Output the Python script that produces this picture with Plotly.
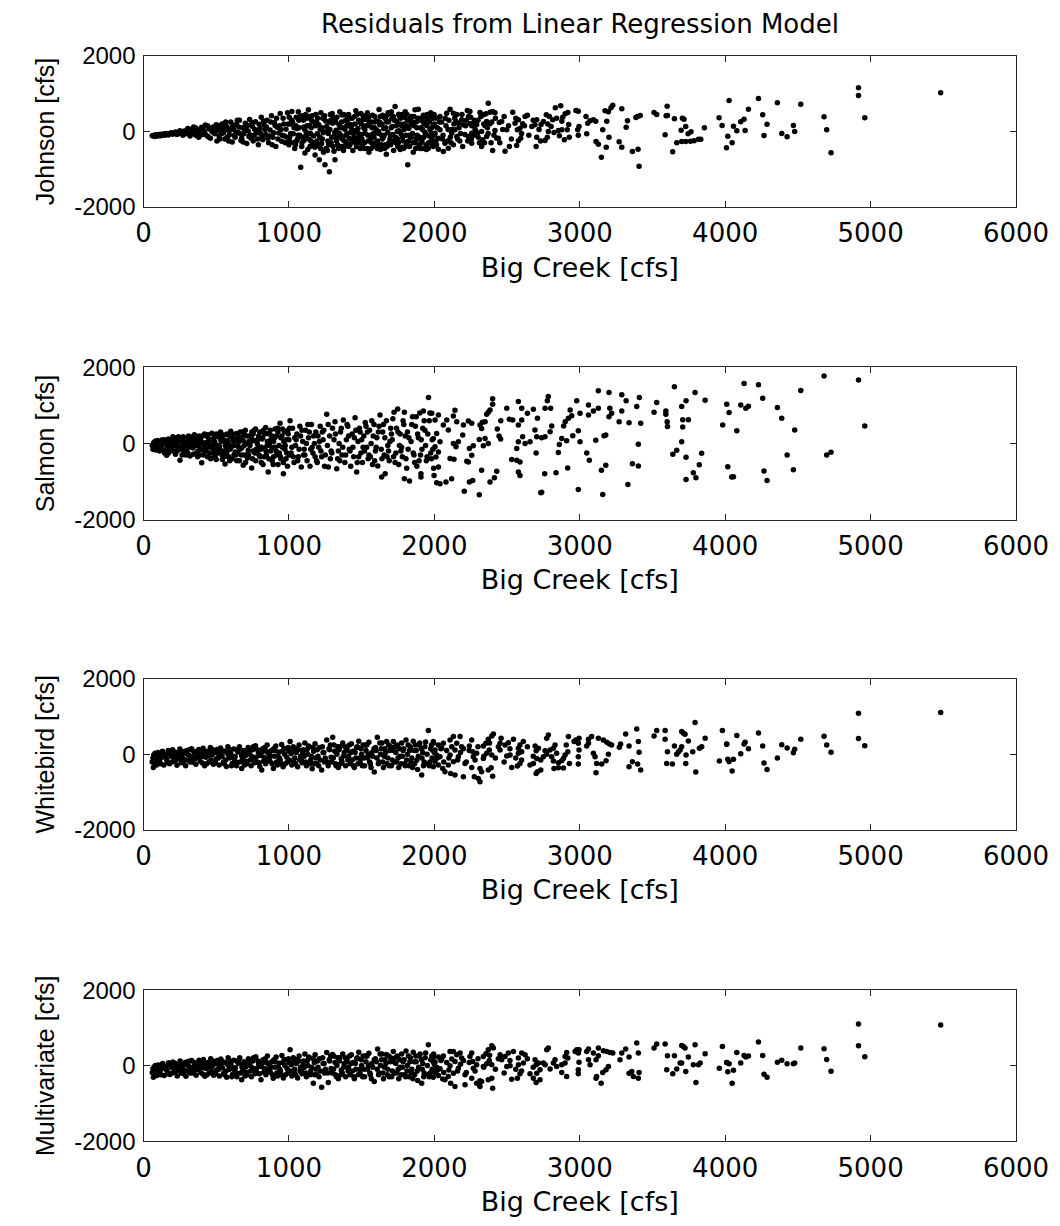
import plotly.graph_objects as go

# ---------------- data (Big Creek flow [cfs], residual [cfs]) ----------------
johnson_points = [
    (60,-110),(70,-120),(75,-95),(80,-130),(90,-100),(95,-80),(100,-120),(110,-90),(115,-70),(120,-110),
    (130,-85),(140,-60),(145,-100),(150,-75),(160,-50),(170,-90),(180,-60),(190,-30),(200,-70),(210,-40),
    (220,-10),(230,-80),(240,-50),(250,20),(260,-30),(270,-100),(280,10),(290,-60),(300,40),(310,-20),
    (320,-120),(330,60),(340,0),(350,-70),(360,90),(370,30),(380,-150),(390,-40),(400,110),(410,50),
    (420,-10),(430,-90),(440,150),(450,70),(460,-180),(470,0),(480,120),(490,-60),(500,180),(505,-250),
    (510,30),(520,-120),(530,90),(540,200),(550,-30),(560,-200),(570,140),(580,40),(590,-90),(600,250),
    (610,-280),(620,60),(630,-150),(640,180),(650,-20),(660,300),(670,-240),(680,100),(690,-60),(700,220),
    (710,-320),(720,10),(730,320),(740,-180),(750,130),(760,-100),(770,260),(780,-30),(790,-350),(800,80),
    (810,380),(820,-220),(830,170),(840,-80),(850,300),(860,-300),(870,40),(880,420),(890,-150),(900,230),
    (910,-400),(920,110),(930,-40),(940,480),(950,-260),(960,350),(970,-120),(980,60),(990,500),(1000,-350),
    (1010,200),(1020,530),(1030,-60),(1040,-450),(1050,380),(1060,-200),(1065,520),(1070,100),(1081,-945),(1090,-300),
    (1100,300),(1110,-570),(1115,450),(1120,-20),(1130,-480),(1134,574),(1140,160),(1150,-250),(1160,420),(1170,-120),
    (1180,-620),(1190,250),(1200,-380),(1209,-750),(1215,60),(1220,500),(1230,-200),(1240,340),(1248,-883),(1255,-450),
    (1260,130),(1270,-50),(1278,-1068),(1285,450),(1290,-300),(1300,220),(1310,-520),(1317,-750),(1325,30),(1330,380),
    (1340,-150),(1350,520),(1360,-400),(1370,100),(1380,-250),(1390,300),(1400,-60),
    (1410,450),(1420,-350),(1430,180),(1440,-500),(1450,20),(1460,550),(1470,-200),(1480,300),(1490,-450),(1500,-80),
    (1510,420),(1520,-300),(1530,150),(1540,500),(1550,-550),(1560,-100),(1570,250),(1580,-400),(1590,400),(1600,50),
    (1610,-250),(1620,580),(1630,-480),(1640,200),(1650,-150),(1660,350),(1670,-600),(1680,-20),(1690,480),(1700,-350),
    (1710,130),(1720,-500),(1730,662),(1740,280),(1750,-200),(1760,420),(1770,-60),(1780,-420),(1790,200),(1800,520),
    (1810,-300),(1817,-883),(1825,80),(1835,350),(1845,-150),(1855,-550),(1867,574),(1875,250),(1890,592),(1895,-380),
    (1905,100),(1915,-250),(1925,430),(1935,-20),(1945,-480),(1955,300),(1965,-120),(1975,500),(1985,-350),(1995,150),
    (515,150),(535,-60),(555,100),(575,-150),(595,30),(615,180),(635,-40),(655,120),(675,-180),(695,50),
    (715,160),(735,-90),(755,-250),(775,20),(795,190),(815,-130),(835,50),(855,-180),(875,250),(895,-30),
    (915,350),(935,150),(955,-100),(975,-300),(995,200),
    (1005,-150),(1025,250),(1045,-350),(1055,80),(1075,-100),(1095,420),(1105,-230),(1125,150),(1145,-400),(1155,300),
    (1175,-300),(1185,450),(1195,-60),(1205,180),(1225,-320),(1235,-30),(1245,420),(1265,-500),(1275,250),(1295,-150),
    (1305,360),(1315,-30),(1335,-350),(1345,180),(1355,-100),(1365,440),(1375,-500),(1385,60),(1395,-300),
    (1405,220),(1415,-180),(1425,-20),(1435,350),(1445,-280),(1455,200),(1465,-400),(1475,80),(1485,-150),(1495,480),
    (1505,-350),(1515,100),(1525,-50),(1535,320),(1545,-250),(1555,150),(1565,-450),(1575,430),(1585,-150),(1595,-300),
    (1605,280),(1615,-50),(1625,180),(1635,-350),(1645,430),(1655,-100),(1665,100),(1675,-400),(1685,260),(1695,-200),
    (1705,520),(1715,-80),(1725,300),(1735,-300),(1745,0),(1755,460),(1765,-480),(1775,150),(1785,-250),(1795,380),
    (1805,-100),(1815,300),(1830,-400),(1840,200),(1850,-50),(1860,400),(1870,-300),(1880,100),(1900,-150),(1910,350),
    (1920,-450),(1930,200),(1940,-80),(1950,450),(1960,-300),(1970,50),(1980,-200),(1990,350),(2000,-100),
    (305,80),(325,-60),(345,120),(365,-110),(385,50),(405,-80),(425,170),(445,-140),(465,90),(485,-30),
    (505,60),(525,-200),(545,30),(565,250),(585,-250),(605,100),(625,-100),(645,300),(665,-60),(685,-280),
    (705,120),(725,-130),(745,240),(765,50),(785,-200),(805,-50),(825,280),(845,120),(865,-120),(885,-350),
    (905,160),(925,-200),(945,50),(965,200),(985,-150),(1002,380),(1012,-50),(1035,100),(1052,-250),(1068,300),
    (1088,-400),(1102,120),(1118,-100),(1138,400),(1148,-50),(1168,250),(1178,-420),(1198,350),(1212,-150),(1228,100),
    (1238,-550),(1252,280),(1268,-250),(1282,50),(1298,480),(1312,-150),(1322,250),(1342,-450),(1352,100),(1368,-200),
    (1378,450),(1392,-100),(1402,350),(1412,-400),(1428,100),(1442,-50),(1452,400),(1462,-300),(1478,-50),(1488,250),
    (1502,-200),(1512,320),(1522,50),(1538,-450),(1548,380),(1562,-200),(1572,100),(1582,-50),(1592,250),(1608,-450),
    (1618,0),(1628,400),(1642,-200),(1652,80),(1662,-350),(1672,250),(1682,500),(1698,-100),(1708,350),(1722,-250),
    (1738,150),(1748,-400),(1758,20),(1768,350),(1782,-150),(1792,50),(1802,-400),(1812,450),(1822,-250),(1838,-150),
    (1848,250),(1858,150),(1872,-450),(1882,-100),(1898,300),(1908,-300),(1918,50),(1928,-150),(1938,380),(1948,150),
    (1958,-450),(1968,250),(1978,-50),(1988,-250),(1998,450),
    (1003,-250),(1018,300),(1033,-300),(1048,150),(1063,-100),(1078,400),(1093,-150),(1108,50),(1123,350),(1138,-200),
    (1153,100),(1163,-350),(1183,150),(1193,-250),(1218,-450),(1233,350),(1258,0),(1273,-350),(1288,300),(1303,-400),
    (1328,-250),(1348,-50),(1363,250),(1383,-400),(1398,150),(1418,350),(1433,-250),(1448,-150),(1468,450),(1483,-300),
    (1498,200),(1518,-450),(1528,400),(1543,-100),(1553,250),(1568,-300),(1588,100),(1603,-350),(1623,250),(1638,-100),
    (1658,-450),(1668,400),(1688,-300),(1703,100),(1718,400),(1733,-150),(1753,-300),(1763,200),(1778,450),(1788,-450),
    (1808,150),(1828,-100),(1843,400),(1853,-300),(1878,-200),(1888,350),(1903,-450),(1923,250),(1943,-350),(1963,400),
    (1983,100),(2015,-350),(2035,250),(2055,-200),(2075,350),(2095,50),(2115,-300),(2135,200),(2155,450),(2175,-250),
    (2195,-400),(2215,150),(2235,400),(2255,-200),(2275,300),(2295,-50),(2320,400),(2345,-300),(2365,100),(2395,250),
    (2410,-100),
    (2108,592),(2131,486),(2085,486),(2142,44),(2119,-44),(2154,-132),(2131,-353),(2073,-309),(2062,-530),(2096,-441),
    (2039,397),(2016,353),(1993,442),(2039,44),(2005,-44),(2028,-177),(1993,-397),(2028,-468),
    (2200,177),(2188,309),(2165,221),(2149,265),(2245,530),(2227,556),(2234,-132),(2257,-309),
    (2291,177),(2268,221),(2257,150),(2245,203),(2287,0),(2257,-44),(2302,-150),
    (2401,530),(2417,494),(2371,751),(2383,512),(2355,468),(2337,442),(2314,503),(2360,265),(2383,203),(2349,150),
    (2325,0),(2360,-132),(2332,-221),(2325,-397),
    (2463,265),(2447,238),(2417,26),(2429,-177),(2440,-177),(2401,-503),
    (2539,512),(2498,44),(2486,-521),(2516,-397),
    (2640,433),(2624,397),(2578,309),(2555,221),(2607,203),(2589,88),(2571,44),(2594,-177),(2578,-247),(2566,-371),
    (2750,265),(2734,185),(2704,309),(2692,177),(2670,132),(2704,-150),(2700,-397),
    (2869,680),(2832,627),(2841,353),(2814,309),(2791,397),(2770,442),(2803,132),(2784,0),(2853,26),(2823,-26),
    (2777,-150),(2761,-238),
    (2918,503),(2900,468),(2883,380),(2877,274),(2924,185),(2914,44),(2877,44),(2928,-150),(2894,-221),(2860,-115),
    (2990,539),(2974,556),(2995,132),(2986,44),(2990,-97),
    (3094,309),(3110,274),(3071,283),(3055,221),(3043,397),(3048,-62),
    (3289,600),(3227,698),(3215,627),(3197,521),(3174,547),(3186,274),(3158,44),(3201,-150),(3271,-274),(3289,-415),
    (3149,-680),(3182,-415),(3112,-265),(3128,-336),
    (3328,283),(3319,115),(3362,-530),(3401,-468),(3408,-918),
    (3416,424),(3397,397),(3386,371),(3511,503),(3529,450),
    (3594,415),(3603,424),(3601,671),(3587,-88),(3639,-539),
    (3651,336),(3717,327),(3706,353),(3697,35),(3729,132),(3765,-9),(3745,-62),
    (3816,-203),(3832,-203),(3786,-247),(3761,-256),(3729,-265),(3701,-265),(3667,-300),
    (3857,97),(3958,362),(3979,159),
    (2000,200),(2010,-250),(2020,100),(2050,250),(2060,-100),(2080,150),(2090,-250),(2100,300),(2110,-150),(2120,50),
    (2140,350),(2160,-200),(2170,100),(2180,-50),(2190,450),(2210,-80),(2220,300),(2230,-250),(2250,380),(2270,-100),
    (2280,50),(2300,300),(2310,-300),(2340,200),(2370,-50),(2390,-300),(2420,350),(2450,-300),(2470,50),(2480,400),
    (2510,150),(2530,-200),(2560,350),(2600,-50),(2620,150),(2650,-100),(2680,300),(2720,50),(2730,-250),(2780,200),
    (4027,821),(4229,874),(4359,759),(4520,724),(4917,1157),(4917,954),(4960,362),(5482,1024),(4680,389),(4698,44),
    (4728,-565),(4160,592),(4258,442),(4288,194),(4469,159),(4478,0),(4389,-53),(4426,-141),(4267,-106),(4137,26),
    (4130,327),(4107,256),(4080,18),(4057,141),(4018,-124),(4048,-300),(4009,-433),
]

salmon_points = [
    (60,-50),(65,-150),(70,20),(75,-100),(80,60),(85,-170),(90,-30),(95,80),(100,-120),(105,0),
    (110,-200),(115,50),(120,-80),(125,90),(130,-160),(135,-20),(140,100),(145,-250),(150,40),(159,-308),
    (165,-100),(170,120),(180,-200),(190,20),(200,-60),(210,150),(220,-280),(230,-10),(240,180),(251,-440),
    (260,-150),(270,60),(280,-240),(290,140),(300,-50),(310,200),(320,-330),(330,0),(340,-120),(350,230),
    (360,-260),(370,80),(380,-60),(390,160),(400,-502),(410,-180),(420,250),(430,20),(440,-350),(450,120),
    (460,-100),(470,270),(480,-240),(490,40),(500,-420),(510,180),(520,-60),(530,300),(540,-300),(550,100),
    (561,-537),(570,-150),(580,220),(590,-30),(600,320),(610,-400),(620,60),(630,-220),(640,260),(650,-80),
    (660,-450),(670,150),(686,-573),(690,-300),(700,350),(710,0),(720,-180),(730,200),(744,-643),(750,-400),
    (760,80),(770,380),(780,-250),(790,-80),(800,300),(810,-500),(820,150),(830,-350),(840,420),(850,-50),
    (858,-749),(865,250),(875,-200),(885,-450),(895,50),(905,380),(915,-300),(925,-550),(939,529),(945,150),
    (955,-100),(962,-793),(970,300),(980,-400),(990,-600),(1000,100),(1008,600),(1015,-250),(1025,400),(1035,-500),
    (1045,-50),(1055,250),(1065,-350),(1075,450),(1085,-620),(1095,50),(1105,-150),(1115,350),(1125,-450),(1135,150),
    (1145,-600),(1155,500),(1165,-250),(1175,0),(1185,300),(1195,-500),(1205,-100),(1215,450),(1225,-350),(1235,100),
    (1245,-600),(1260,767),(1271,-617),(1280,200),(1290,-200),(1300,400),(1317,573),(1329,-661),(1335,-400),(1345,0),
    (1355,300),(1365,-300),(1374,617),(1385,-500),(1395,100),(1405,450),(1415,-150),(1425,-600),(1435,250),(1445,-350),
    (1455,678),(1466,-749),(1475,50),(1485,400),(1495,-250),(1505,-500),(1515,200),(1525,550),(1535,-100),(1545,-400),
    (1555,350),(1565,0),(1575,-550),(1585,500),(1595,-200),(1605,150),(1611,-590),(1627,749),(1638,-881),(1645,300),
    (1655,-300),(1662,-793),(1670,600),(1680,-50),(1690,-450),(1700,400),(1710,100),(1723,819),(1735,-250),(1748,907),
    (1755,-550),(1765,250),(1775,-100),(1785,600),(1794,819),(1794,-925),(1805,-400),(1815,300),(1829,-987),(1840,50),
    (1850,700),(1860,-300),(1870,450),(1880,-600),(1890,150),(1900,800),(1908,-793),(1908,-881),(1915,-150),(1925,855),
    (1935,350),(1945,-450),(1960,1207),(1965,600),(1975,-250),(1985,100),(1995,-650),
    (105,-60),(125,-40),(145,20),(175,-40),(195,-150),(215,50),(235,-100),(255,100),(275,-50),(295,-180),
    (315,50),(335,130),(355,-30),(375,-200),(395,60),(415,-40),(435,190),(455,-250),(475,-30),(495,200),
    (515,-180),(535,60),(555,-350),(575,250),(595,-150),(615,150),(635,-300),(655,40),(675,-120),(695,220),
    (715,-380),(735,30),(755,250),(775,-150),(795,-300),(815,120),(835,-120),(855,260),(875,100),(895,-350),
    (915,200),(935,-250),(955,380),(975,-50),(995,250),(1020,-100),(1040,150),(1060,-450),(1080,200),(1100,-300),
    (1120,0),(1140,300),(1160,-100),(1180,-350),(1200,200),(1220,-200),(1240,350),(1265,-50),(1285,-400),(1310,100),
    (1340,-200),(1360,400),(1390,-300),(1410,200),(1440,-100),(1460,350),(1480,-350),(1500,100),(1520,-200),(1540,300),
    (1560,-350),(1580,200),(1600,-100),(1620,450),(1640,-400),(1660,150),(1685,-200),(1705,250),(1720,-350),(1740,400),
    (1760,-50),(1780,-350),(1800,200),(1820,-150),(1845,500),(1865,-500),(1885,250),(1905,-300),(1920,400),(1940,-50),
    (1955,250),(1980,-400),
    (205,-200),(225,120),(245,-50),(265,-300),(285,30),(305,-250),(325,170),(345,-60),(365,100),(385,-300),
    (405,200),(425,-120),(445,40),(465,-380),(485,150),(505,-50),(525,200),(545,-200),(565,0),(585,-350),
    (605,200),(625,-50),(645,-250),(665,300),(685,80),(705,-300),(725,50),(745,300),(765,-250),(785,100),
    (805,-150),(825,350),(845,-300),(865,0),(885,200),(905,-100),(925,300),(945,-400),(965,50),(985,-250),
    (1005,400),(1030,-350),(1050,100),(1070,-150),(1090,350),(1110,-300),(1130,500),(1150,-150),(1170,200),(1190,-450),
    (1210,50),(1230,300),(1250,-300),(1270,500),(1295,-250),(1320,250),(1350,-450),(1370,-100),(1400,500),(1420,-200),
    (1450,150),(1470,-500),(1490,300),(1510,-100),(1530,450),(1550,-300),(1570,600),(1590,-450),(1615,300),(1635,-150),
    (1650,500),(1675,-350),(1695,50),(1715,650),(1730,-500),(1750,300),(1770,-200),(1790,500),(1810,-650),(1825,150),
    (1855,-250),(1875,700),(1895,-450),(1910,100),(1930,600),(1950,-350),(1970,800),(1990,-150),
    (152,-180),(162,60),(172,-250),(182,100),(192,-120),(202,180),(212,-30),(232,-200),(242,80),(262,-80),
    (272,180),(282,-150),(292,-300),(302,150),(312,-100),(322,30),(342,-280),(352,100),(362,-50),(372,-350),
    (382,200),(392,-150),(402,30),(412,-300),(432,-200),(442,230),(452,-80),(462,-400),(472,100),(482,-150),
    (492,-330),(502,250),(512,-250),(522,-100),(532,100),(542,-420),(552,220),(562,-50),(572,-250),(582,80),
    (592,-450),(602,-100),(612,250),(622,-300),(632,100),(642,-450),(652,180),(662,-150),(672,-300),(682,300),
    (692,-50),(702,-500),(712,200),(722,-300),(732,-50),(742,150),(752,-200),(762,350),(772,-450),(782,0),
    (792,200),(802,-350),(812,-100),(822,-550),(832,250),(842,-200),(852,50),(862,-400),(872,350),(882,-100),
    (892,-550),(902,150),(912,-200),(922,400),(932,-50),(942,-350),(952,200),(962,-500),(972,-150),(982,100),
    (992,350),(1002,-300),
    (3651,1489),(3793,1339),(3862,1137),(3731,1119),(3701,969),(3708,626),(3747,626),(3708,432),(3701,44),(3667,-176),
    (3640,-282),(3731,-361),(3838,-256),(3822,-555),(3781,-767),(3799,-899),(3731,-943),
    (3592,855),(3592,767),(3601,573),(3603,449),(3529,1075),(3511,819),
    (3410,1207),(3392,969),(3419,529),(3339,546),(3403,-18),(3362,-529),(3403,-590),(3331,-1075),
    (3319,1119),(3289,1278),(3289,855),(3271,573),(3201,1339),(3128,1383),(3207,925),(3219,793),(3201,705),
    (3179,220),(3167,203),(3110,88),(3179,-573),(3149,-705),(3158,-1339),
    (3128,925),(3094,855),(3060,749),(3060,1013),(2979,1119),(3002,793),(2990,335),(3002,44),(3048,-247),(3066,-441),
    (2990,-1207),(2934,881),(2945,731),(2922,661),(2900,573),(2889,458),(2952,203),(2910,70),(2876,132),(2860,-26),
    (2917,-643),(2853,-238),(2837,-767),
    (2800,925),(2784,1233),(2777,1119),(2761,925),(2807,458),(2796,308),(2761,176),(2738,150),(2759,-793),(2732,-1295),
    (2738,-1277),(2709,661),(2681,899),(2640,793),(2601,925),(2692,352),(2704,176),(2658,44),(2624,0),(2700,-247),
    (2578,1101),(2601,617),(2578,484),(2539,617),(2607,176),(2578,44),(2567,-132),
    (2532,-423),(2567,-441),(2589,-485),(2578,-749),(2589,-837),
    (2498,925),(2516,634),(2457,599),(2433,379),(2445,194),(2456,115),(2429,-731),(2413,-899),(2383,-1013),
    (2401,1172),(2401,1031),(2371,819),(2383,881),(2360,767),(2330,555),(2349,573),(2314,485),(2325,396),
    (2309,106),(2349,132),(2371,0),(2337,-62),(2309,-1348),(2325,-705),
    (2234,590),(2257,529),(2200,485),(2195,220),(2268,-62),(2241,-132),(2257,-308),(2264,-969),(2241,-1013),(2206,-1251),
    (2223,-467),(2234,-485),
    (2142,872),(2131,722),(2154,573),(2131,0),(2165,44),(2149,-88),(2135,-414),(2108,-396),(2080,-1013),(2119,-925),
    (2085,617),(2062,485),(2096,352),(2028,749),(2005,617),(1982,793),
    (2016,264),(1993,132),(2039,44),(2005,-88),(2028,-220),(2011,-352),(2028,-617),(1998,-837),(2016,-1031),(2039,-1057),
    (3983,485),
    (4680,1771),(4917,1665),(4960,458),(4130,1577),(4229,1542),(4520,1392),(4258,1189),(4011,1031),(4107,1013),(4142,925),
    (4160,978),(4027,811),(4359,943),(4389,661),(4478,352),(4080,335),(4426,-300),(4698,-300),(4728,-229),(4018,-608),
    (4045,-881),(4057,-872),(4267,-722),(4288,-969),(4469,-687),
]

whitebird_points = [
    (60,-200),(65,-100),(68,-347),(70,-20),(75,-250),(80,30),(85,-150),(90,-280),(95,-50),(100,50),
    (110,-200),(120,-100),(130,80),(140,-280),(150,0),(160,-150),(170,100),(180,-250),(190,-50),(200,120),
    (210,-180),(220,20),(230,-290),(240,-80),(250,140),(260,-220),(270,60),(280,-130),(290,-300),(300,100),
    (310,-20),(320,-200),(330,150),(340,-100),(350,40),(360,-260),(370,-50),(380,130),(390,-180),(400,0),
    (410,160),(420,-300),(430,-80),(440,80),(450,-200),(460,180),(470,-20),(480,-260),(490,100),(500,-120),
    (510,30),(520,-280),(530,170),(540,-60),(550,-200),(560,80),(570,-320),(580,200),(590,-100),(600,20),
    (610,-240),(620,140),(630,-60),(640,-300),(650,60),(660,200),(675,-373),(680,-150),(690,100),(700,-40),
    (710,-250),(720,180),(730,0),(740,-300),(750,120),(760,-100),(770,230),(780,-200),(790,40),(800,-320),
    (813,-418),(820,150),(830,-80),(840,-250),(850,250),(860,20),(870,-180),(880,100),(893,-373),(900,-50),
    (910,220),(920,-280),(930,60),(940,-150),(950,260),(960,-330),(970,0),(980,150),(990,-200),(1000,80),
    (1008,338),(1020,-280),(1030,200),(1040,-100),(1050,50),(1060,-330),(1070,250),(1080,-50),(1090,-220),(1100,120),
    (1110,300),(1120,-300),(1130,0),(1140,200),(1150,-150),(1160,-380),(1170,80),(1180,280),(1190,-250),(1200,-50),
    (1210,180),(1225,-418),(1235,50),(1245,-200),(1260,382),(1270,-300),(1280,120),(1290,-80),(1301,453),(1310,250),
    (1320,-250),(1330,0),(1340,-350),(1350,200),(1360,-120),(1370,300),(1380,50),(1390,-300),(1400,150),(1410,-50),
    (1420,-250),(1430,280),(1440,80),(1450,-350),(1460,-100),(1470,200),(1480,350),(1490,-200),(1500,0),(1510,250),
    (1520,-300),(1530,100),(1540,-100),(1550,320),(1560,-250),(1570,50),(1587,-471),(1595,180),(1608,453),(1620,-200),
    (1630,0),(1640,300),(1650,-350),(1660,150),(1672,338),(1680,-100),(1690,-300),(1700,200),(1718,338),(1725,-200),
    (1735,50),(1745,250),(1755,-350),(1765,-50),(1775,300),(1785,100),(1795,-250),(1805,380),(1815,0),(1825,-300),
    (1835,200),(1845,-100),(1855,350),(1865,-250),(1875,100),(1885,-400),(1895,250),(1913,-551),(1920,50),(1930,-200),
    (1940,330),(1959,631),(1965,-300),(1975,150),(1985,-100),(1995,300),
    (105,-130),(125,10),(145,-60),(165,-220),(185,50),(205,-60),(225,-150),(245,40),(265,-40),(285,80),
    (305,-150),(325,-60),(345,80),(365,10),(385,-90),(405,-230),(425,60),(445,-30),(465,-150),(485,40),
    (505,130),(525,-50),(545,90),(565,-150),(585,-20),(605,-300),(625,-130),(645,100),(665,-200),(685,40),
    (705,-180),(725,80),(745,-60),(765,-220),(785,120),(805,-30),(825,-180),(845,80),(865,-100),(885,-250),
    (905,100),(925,-50),(945,-250),(965,160),(985,-80),(1005,-150),(1025,80),(1045,-250),(1065,120),(1085,-150),
    (1105,-50),(1125,130),(1145,-250),(1165,180),(1185,-100),(1205,-300),(1230,200),(1250,-100),(1275,150),(1295,-200),
    (1315,80),(1335,200),(1355,-250),(1375,-50),(1395,100),(1415,250),(1435,-150),(1455,50),(1475,-250),(1495,150),
    (1515,-100),(1535,250),(1555,-200),(1575,-50),(1600,100),(1615,-250),(1635,150),(1655,-50),(1675,-250),(1695,100),
    (1710,-150),(1730,200),(1750,-100),(1770,-250),(1790,150),(1810,-150),(1830,100),(1850,-350),(1870,250),(1890,-50),
    (1910,150),(1925,-300),(1950,0),(1970,-200),(1990,100),
    (108,-40),(118,-250),(135,-20),(155,-100),(175,20),(195,-200),(215,60),(235,-40),(255,-120),(275,-220),
    (295,20),(315,120),(335,-200),(355,-120),(375,60),(395,100),(415,-60),(435,-250),(455,20),(475,120),
    (495,-220),(515,-100),(535,60),(555,-250),(575,30),(595,120),(615,-80),(635,-200),(655,150),(675,-40),
    (695,-280),(715,50),(735,-150),(755,200),(775,-80),(795,-220),(815,60),(835,180),(855,-150),(875,-40),
    (895,150),(915,-200),(935,-100),(955,80),(975,-250),(995,180),(1015,20),(1035,-200),(1055,150),(1075,-150),
    (1095,40),(1115,-200),(1135,220),(1155,-50),(1175,-250),(1195,120),(1215,-150),(1240,50),(1265,-200),(1285,250),
    (1305,-100),(1325,-300),(1345,120),(1365,-200),(1385,200),(1405,-150),(1425,50),(1445,-300),(1465,180),(1485,-100),
    (1505,-300),(1525,250),(1545,0),(1565,-350),(1585,150),(1605,-100),(1625,300),(1645,-200),(1665,50),(1685,250),
    (1705,-300),(1720,100),(1740,-200),(1760,150),(1780,-50),(1800,-300),(1820,250),(1840,-200),(1860,100),(1880,-150),
    (1900,300),(1915,-100),(1935,200),(1955,-250),(1980,250),
    (3793,844),(3981,631),(4010,267),(3960,-178),(3862,427),(3839,204),(3823,160),
    (3701,604),(3713,560),(3724,533),(3747,356),(3701,204),(3731,-18),(3667,0),(3690,116),(3679,71),
    (3777,71),(3729,-240),(3798,-471),(3603,71),(3598,-240),(3587,631),(3529,631),(3511,489),(3587,400),
    (3651,222),(3637,-258),(3392,676),(3403,338),(3408,53),(3316,542),(3339,222),(3281,276),(3272,187),
    (3362,-196),(3398,-258),(3419,-418),(3339,-329),(3219,249),(3204,276),(3186,320),
    (3128,427),(3162,382),(3082,471),(3060,400),(3197,0),(3181,-169),(3151,-258),(3116,-240),(3112,-489),
    (3094,27),(3105,-62),(3060,293),(3048,222),
    (2995,427),(2990,293),(2995,116),(2990,-62),(2990,-258),(2961,338),(2973,382),(2922,471),(2907,249),
    (2918,71),(2899,-18),(2888,-107),(2876,-169),(2929,-240),(2888,-364),
    (2830,249),(2819,160),(2841,27),(2807,-62),(2784,516),(2773,427),(2796,116),(2762,98),(2773,0),
    (2819,-178),(2853,-222),(2823,-373),(2853,-356),
    (2750,-62),(2732,-151),(2704,-107),(2681,-240),(2658,-284),(2716,160),(2693,222),(2700,98),
    (2709,-462),(2732,-418),(2700,-507),
    (2612,338),(2589,249),(2578,160),(2601,71),(2578,27),(2589,-240),(2571,-311),(2532,-347),
    (2544,400),(2509,311),(2486,249),(2452,116),(2452,293),(2521,-18),(2498,-44),(2459,427),
    (2395,489),(2406,542),(2371,400),(2355,293),(2337,222),(2378,116),(2395,-18),(2360,27),(2337,-107),
    (2391,-356),(2371,-418),(2314,-373),(2325,-462),(2302,-640),(2314,-729),(2275,-596),(2401,-578),
    (2257,382),(2241,222),(2264,71),(2291,27),(2268,-62),(2211,-240),(2257,-347),(2200,-596),
    (2177,471),(2131,471),(2108,382),(2154,293),(2188,204),(2142,116),(2108,-18),(2165,-62),(2131,-196),(2096,-284),
    (2073,-462),(2112,-507),(2142,-551),
    (2062,293),(2051,160),(2028,249),(2005,116),(1993,338),(2016,-18),(2039,-62),(2005,-196),(2028,-284),(1993,-329),
    (2058,-373),
    (2000,50),(2020,-100),(2045,150),(2065,-200),(2085,100),(2100,-100),(2120,200),(2160,-150),(2180,50),(2200,150),
    (2220,-200),(2240,100),(2280,-150),(2300,200),(2340,-50),(2380,300),(2420,-100),(2440,200),(2480,-200),(2520,150),
    (2560,-100),(2600,-150),(2640,200),(2680,-50),
    (4917,1093),(5482,1111),(4917,418),(4960,231),(4680,480),(4698,249),(4728,53),(4229,569),(4080,498),(4011,276),
    (4130,276),(4137,320),(4160,151),(4258,222),(4107,18),(4267,-231),(4288,-400),(4359,-98),(4389,258),(4426,169),
    (4469,44),(4478,133),(4520,400),(4018,-133),(4027,-196),(4057,-133),(4048,-444),
]

multivariate_points = [
    (60,-180),(65,-80),(68,-300),(72,-30),(76,-230),(82,10),(86,-130),(92,-260),(96,-60),(102,20),
    (112,-180),(122,-90),(132,60),(142,-260),(152,-20),(162,-140),(172,80),(182,-230),(192,-40),(202,100),
    (212,-170),(222,30),(232,-270),(242,-70),(252,130),(262,-200),(272,50),(282,-120),(292,-280),(302,110),
    (312,-10),(322,-190),(332,140),(342,-90),(352,30),(362,-250),(372,-40),(382,150),(392,-170),(402,10),
    (412,170),(422,-280),(432,-70),(442,90),(452,-190),(462,190),(472,-10),(482,-250),(492,110),(502,-110),
    (512,40),(522,-270),(532,180),(542,-50),(552,-190),(562,90),(572,-300),(582,210),(592,-90),(602,30),
    (612,-230),(622,150),(632,-50),(642,-290),(652,70),(662,210),(675,-372),(682,-140),(692,110),(702,-30),
    (712,-240),(722,190),(732,10),(742,-290),(752,130),(762,-90),(772,240),(782,-190),(792,50),(808,-372),
    (822,160),(832,-70),(842,-240),(852,260),(862,30),(872,-170),(882,110),(892,-330),(902,-40),(912,230),
    (922,-270),(932,70),(942,-140),(952,270),(962,-320),(972,10),(982,160),(992,-190),(1000,90),(1008,425),
    (1020,-270),(1030,210),(1040,-90),(1050,60),(1060,-320),(1070,260),(1080,-40),(1090,-210),(1100,130),(1110,310),
    (1120,-290),(1130,10),(1140,210),(1150,-140),(1168,-460),(1175,90),(1180,290),(1190,-240),(1200,-40),(1210,190),
    (1225,-566),(1235,60),(1245,-190),(1260,354),(1271,-442),(1280,130),(1290,-70),(1300,300),(1310,250),(1320,-240),
    (1330,10),(1340,-340),(1350,210),(1360,-110),(1370,310),(1380,60),(1390,-290),(1400,160),(1410,-40),(1420,-240),
    (1430,290),(1440,90),(1450,-340),(1460,-90),(1470,210),(1480,360),(1490,-190),(1500,10),(1510,260),(1520,-290),
    (1530,110),(1540,-90),(1550,330),(1560,-240),(1570,60),(1587,-416),(1595,190),(1610,442),(1620,-190),(1630,10),
    (1640,310),(1650,-340),(1660,160),(1670,300),(1680,-90),(1690,-290),(1700,210),(1718,380),(1725,-190),(1735,60),
    (1745,260),(1755,-340),(1765,-40),(1775,310),(1785,110),(1795,-240),(1805,390),(1815,10),(1825,-290),(1835,210),
    (1845,-90),(1855,360),(1865,-240),(1875,110),(1885,-390),(1895,260),(1913,-460),(1920,60),(1930,-190),(1940,340),
    (1959,558),(1965,-290),(1975,160),(1985,-90),(1995,310),
    (107,-120),(127,20),(147,-50),(167,-210),(187,60),(207,-50),(227,-140),(247,50),(267,-30),(287,90),
    (307,-140),(327,-50),(347,90),(367,20),(387,-80),(407,-220),(427,70),(447,-20),(467,-140),(487,50),
    (507,140),(527,-40),(547,100),(567,-140),(587,-10),(607,-290),(627,-120),(647,110),(667,-190),(687,50),
    (707,-170),(727,90),(747,-50),(767,-210),(787,130),(807,-20),(827,-170),(847,90),(867,-90),(887,-240),
    (907,110),(927,-40),(947,-240),(967,170),(987,-70),(1007,-140),(1027,90),(1047,-240),(1067,130),(1087,-140),
    (1107,-40),(1127,140),(1147,-240),(1167,190),(1187,-90),(1207,-290),(1232,210),(1252,-90),(1277,160),(1297,-190),
    (1317,90),(1337,210),(1357,-240),(1377,-40),(1397,110),(1417,260),(1437,-140),(1457,60),(1477,-240),(1497,160),
    (1517,-90),(1537,260),(1557,-190),(1577,-40),(1602,110),(1617,-240),(1637,160),(1657,-40),(1677,-240),(1697,110),
    (1712,-140),(1732,210),(1752,-90),(1772,-240),(1792,160),(1812,-140),(1832,110),(1852,-340),(1872,260),(1892,-40),
    (1912,160),(1927,-290),(1952,10),(1972,-190),(1992,110),
    (109,-30),(119,-240),(137,-10),(157,-90),(177,30),(197,-190),(217,70),(237,-30),(257,-110),(277,-210),
    (297,30),(317,130),(337,-190),(357,-110),(377,70),(397,110),(417,-50),(437,-240),(457,30),(477,130),
    (497,-210),(517,-90),(537,70),(557,-240),(577,40),(597,130),(617,-70),(637,-190),(657,160),(677,-30),
    (697,-270),(717,60),(737,-140),(757,210),(777,-70),(797,-210),(817,70),(837,190),(857,-140),(877,-30),
    (897,160),(917,-190),(937,-90),(957,90),(977,-240),(997,190),(1017,30),(1037,-190),(1057,160),(1077,-140),
    (1097,50),(1117,-190),(1137,230),(1157,-40),(1177,-240),(1197,130),(1217,-140),(1242,60),(1267,-190),(1287,260),
    (1307,-90),(1327,-290),(1347,130),(1367,-190),(1387,210),(1407,-140),(1427,60),(1447,-290),(1467,190),(1487,-90),
    (1507,-290),(1527,260),(1547,10),(1567,-340),(1587,160),(1607,-90),(1627,310),(1647,-190),(1667,60),(1687,260),
    (1707,-290),(1722,110),(1742,-190),(1762,160),(1782,-40),(1802,-290),(1822,260),(1842,-190),(1862,110),(1882,-140),
    (1902,310),(1917,-90),(1937,210),(1957,-240),(1982,260),
    (3793,558),(3981,513),(4010,88),(3960,-62),(3862,319),(3828,71),(3816,27),(3781,27),(3799,-442),
    (3701,540),(3713,513),(3724,469),(3747,230),(3701,71),(3729,-150),(3667,-88),(3690,71),(3640,-212),
    (3603,265),(3598,-106),(3587,575),(3529,575),(3511,469),(3651,265),
    (3392,602),(3403,336),(3408,-177),(3358,-150),(3403,-327),(3369,-283),
    (3316,442),(3339,230),(3289,336),(3277,159),(3339,-195),(3227,336),(3209,354),(3186,380),
    (3162,398),(3128,469),(3094,336),(3060,442),(3128,265),(3112,159),
    (3197,-18),(3181,-106),(3158,-177),(3116,-283),(3112,-327),(3147,-460),
    (3048,380),(3060,159),(3071,27),
    (2995,425),(2990,336),(2995,97),(2990,-106),(2990,-212),(2968,380),(2979,425),(2910,354),(2899,248),
    (2918,204),(2899,71),(2876,27),(2876,-177),(2910,-283),
    (2830,159),(2819,71),(2841,-18),(2796,-88),(2784,469),(2773,425),
    (2762,27),(2750,71),(2727,-106),(2704,-195),(2681,-327),(2658,-212),(2716,71),(2693,159),(2700,27),
    (2727,-372),(2700,-442),
    (2624,292),(2601,336),(2578,204),(2612,71),(2578,27),(2589,-212),(2571,-327),(2532,-354),
    (2544,380),(2509,336),(2486,248),(2463,159),(2452,292),(2521,0),(2498,-18),
    (2395,531),(2406,469),(2371,425),(2355,319),(2337,248),(2378,142),(2395,27),(2360,53),(2337,-18),
    (2395,-327),(2371,-372),(2314,-398),(2325,-416),(2309,-504),(2314,-549),(2291,-460),(2401,-593),
    (2257,336),(2245,248),(2264,115),(2291,27),(2268,-62),(2211,-239),(2257,-327),(2211,-504),
    (2177,336),(2131,380),(2108,380),(2154,292),(2188,204),(2142,115),(2108,0),(2165,-62),(2131,-195),(2096,-283),
    (2073,-372),(2112,-460),(2142,-549),
    (2062,260),(2051,180),(2028,230),(2005,100),(1993,230),(2016,-40),(2039,-80),(2005,-180),(2028,-260),(1993,-300),
    (2058,-350),
    (2000,40),(2020,-120),(2045,140),(2065,-180),(2085,90),(2100,-110),(2120,180),(2160,-140),(2180,40),(2200,140),
    (2220,-180),(2240,90),(2280,-140),(2300,190),(2340,-40),(2380,280),(2420,-90),(2440,190),(2480,-190),(2520,140),
    (2560,-90),(2600,-140),(2640,190),(2680,-40),
    (4917,1106),(5482,1080),(4917,531),(4960,239),(4680,451),(4698,168),(4728,-142),(4229,628),(4080,354),(4130,274),
    (4142,230),(4160,257),(4258,274),(4267,-221),(4288,-301),(4107,71),(4359,97),(4389,150),(4426,53),(4469,53),
    (4478,71),(4520,469),(4011,88),(4027,53),(4018,-159),(4057,-115),(4048,-460),
]

panel_names = ["Johnson [cfs]", "Salmon [cfs]", "Whitebird [cfs]", "Multivariate [cfs]"]
panel_data = [johnson_points, salmon_points, whitebird_points, multivariate_points]
x_ticks = [0, 1000, 2000, 3000, 4000, 5000, 6000]
y_ticks = [-2000, 0, 2000]
x_title = "Big Creek [cfs]"
chart_title = "Residuals from Linear Regression Model"

# ---------------- layout geometry (pixels, page body offset compensated) ----------------
W, H = 1060, 1226
OFF = 8
plot_left, plot_right = 143.5 - OFF, 1016 - OFF
panel_tops = [56 - OFF, 367.3 - OFF, 679 - OFF, 990.3 - OFF]
panel_bottoms = [207 - OFF, 519.7 - OFF, 829.7 - OFF, 1141.3 - OFF]

FONT = "Liberation Sans, Arial, Helvetica, sans-serif"
WIDE = "DejaVu Sans, Liberation Sans, Arial, sans-serif"
AX_COLOR = "#262626"

fig = go.Figure()
layout = dict(
    width=W, height=H,
    margin=dict(l=0, r=0, t=0, b=0),
    paper_bgcolor="white", plot_bgcolor="white",
    showlegend=False,
    font=dict(family=FONT, size=24, color="black"),
)

for i, (pts, name) in enumerate(zip(panel_data, panel_names)):
    n = "" if i == 0 else str(i + 1)
    xs = [p[0] for p in pts]
    ys = [p[1] for p in pts]
    fig.add_trace(go.Scatter(
        x=xs, y=ys, mode="markers",
        marker=dict(size=5.5, color="black", line=dict(width=0)),
        xaxis="x" + n, yaxis="y" + n, hoverinfo="x+y",
    ))
    ydom = [1 - panel_bottoms[i] / H, 1 - panel_tops[i] / H]
    common = dict(
        showline=True, linecolor=AX_COLOR, linewidth=1.3, mirror="ticks",
        ticks="inside", ticklen=6, tickwidth=1.3, tickcolor=AX_COLOR,
        showgrid=False, zeroline=False, automargin=False,
    )
    layout["xaxis" + n] = dict(
        common, domain=[plot_left / W, plot_right / W], anchor="y" + n,
        range=[0, 6000], tickvals=x_ticks, ticktext=[str(v) for v in x_ticks],
        tickfont=dict(family=WIDE, size=26, color="black"),
        title=dict(text=x_title, font=dict(family=WIDE, size=27, color="black"), standoff=10),
        ticklabelstandoff=3,
    )
    layout["yaxis" + n] = dict(
        common, domain=ydom, anchor="x" + n,
        range=[-2000, 2000], tickvals=y_ticks, ticktext=[str(v) for v in y_ticks],
        tickfont=dict(family=FONT, size=24, color="black"),
        title=dict(text=name, font=dict(family=FONT, size=25, color="black"), standoff=12),
        ticklabelstandoff=2,
    )

layout["annotations"] = [dict(
    text=chart_title, x=(plot_left + plot_right) / 2 / W, y=1 - 16 / H,
    xref="paper", yref="paper", xanchor="center", yanchor="middle",
    showarrow=False, font=dict(family=WIDE, size=26, color="black"),
)]

fig.update_layout(**layout)
fig.write_html("out.html")
